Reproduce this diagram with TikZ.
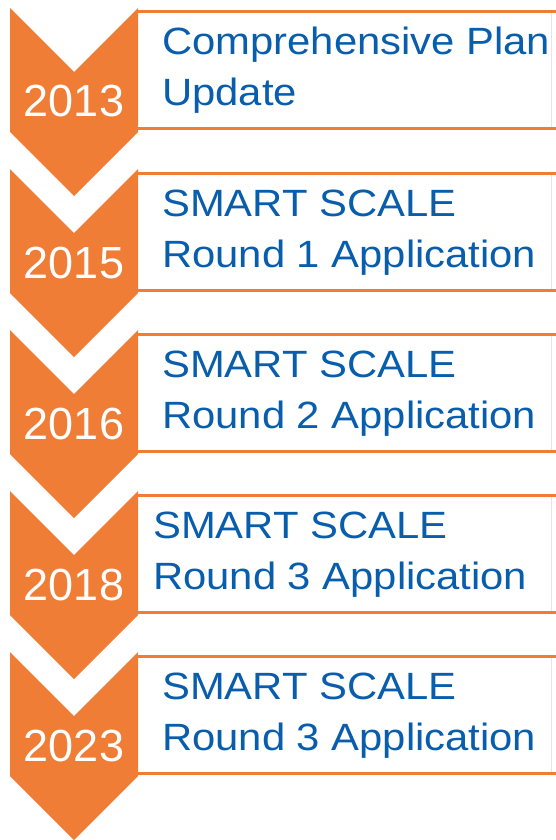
\documentclass[tikz,border=0pt]{standalone}
\usepackage{fontspec}
\setmainfont{Liberation Sans}
\newfontfamily\itemfont[FakeStretch=1.1]{Liberation Sans}
\definecolor{chevorange}{RGB}{240,125,54}
\definecolor{itemblue}{RGB}{8,94,172}
\begin{document}
\begin{tikzpicture}[x=1pt, y=-1pt,
  chevron/.style={fill=chevorange},
  box line/.style={draw=chevorange, line width=3pt},
  box edge/.style={draw=black!10, line width=0.8pt},
  year/.style={text=white, font=\fontsize{45}{45}\selectfont, inner sep=0pt, anchor=base},
  item/.style={text=itemblue, font=\itemfont\fontsize{38}{38}\selectfont, inner sep=0pt, anchor=base west}]%
\fill[white] (0,0) rectangle (556,840);
\useasboundingbox (0,0) rectangle (556,840);
% boxes
\draw[box edge] (551,12) -- (551,129);
\draw[box edge] (551,173) -- (551,290);
\draw[box edge] (551,334) -- (551,451);
\draw[box edge] (551,495) -- (551,612);
\draw[box edge] (551,656) -- (551,773);
\draw[box line] (138,12) -- (556,12) (138,129) -- (556,129);
\draw[box line] (138,173) -- (556,173) (138,290) -- (556,290);
\draw[box line] (138,334) -- (556,334) (138,451) -- (556,451);
\draw[box line] (138,495) -- (556,495) (138,612) -- (556,612);
\draw[box line] (138,656) -- (556,656) (138,773) -- (556,773);
% chevrons
\fill[chevron] (10,8) -- (74,72) -- (138,8) -- (138,132) -- (74,196) -- (10,132) -- cycle;
\fill[chevron] (10,169) -- (74,233) -- (138,169) -- (138,293) -- (74,357) -- (10,293) -- cycle;
\fill[chevron] (10,330) -- (74,394) -- (138,330) -- (138,454) -- (74,518) -- (10,454) -- cycle;
\fill[chevron] (10,491) -- (74,555) -- (138,491) -- (138,615) -- (74,679) -- (10,615) -- cycle;
\fill[chevron] (10,652) -- (74,716) -- (138,652) -- (138,776) -- (74,840) -- (10,776) -- cycle;
% years
\node[year] (y2013) at (74,117) {2013};
\node[year] (y2015) at (74,278) {2015};
\node[year] (y2016) at (74,439) {2016};
\node[year] (y2018) at (74,600) {2018};
\node[year] (y2023) at (74,761) {2023};
% labels
\node[item] (t1a) at (162,55) {Comprehensive Plan};
\node[item] (t1b) at (162,106) {Update};
\node[item] (t2a) at (162,216) {SMART SCALE};
\node[item] (t2b) at (162,267) {Round 1 Application};
\node[item] (t3a) at (162,377) {SMART SCALE};
\node[item] (t3b) at (162,428) {Round 2 Application};
\node[item] (t4a) at (153,538) {SMART SCALE};
\node[item] (t4b) at (153,589) {Round 3 Application};
\node[item] (t5a) at (162,699) {SMART SCALE};
\node[item] (t5b) at (162,750) {Round 3 Application};
\end{tikzpicture}
\end{document}
